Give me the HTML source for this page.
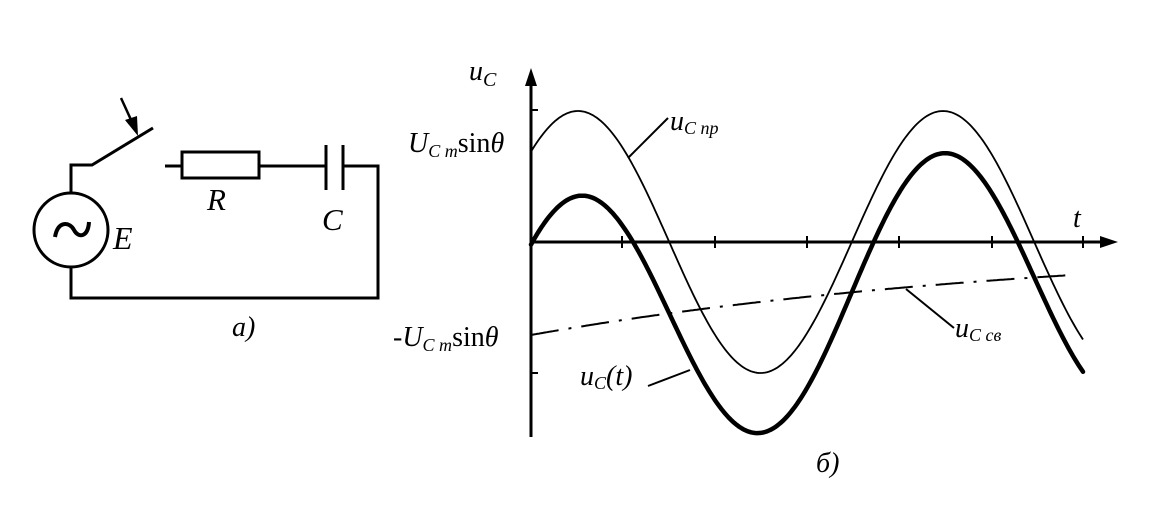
<!DOCTYPE html>
<html><head><meta charset="utf-8"><style>
html,body{margin:0;padding:0;background:#fff}
svg{display:block}
text{font-family:"Liberation Serif",serif;font-style:italic;fill:#000}
</style></head><body>
<svg id="s" width="1152" height="507" viewBox="0 0 1152 507" xmlns="http://www.w3.org/2000/svg">
<g stroke="#000" stroke-width="3" fill="none">
<circle cx="71" cy="230" r="37"/>
<polyline points="71,193 71,165 92,165 153,128"/>
<polyline points="71,267 71,298 378,298 378,166 343,166"/>
<line x1="343" y1="145" x2="343" y2="190"/>
<line x1="326" y1="145" x2="326" y2="190"/>
<line x1="326" y1="166" x2="259" y2="166"/>
<rect x="182" y="152" width="77" height="26"/>
<line x1="165" y1="166" x2="182" y2="166"/>
<line x1="121" y1="98" x2="132" y2="122" stroke-width="2.5"/>
<path d="M55,237 C58,220 70,222 74,230 C78,238 88,238 89,222" stroke-width="4"/>
</g>
<polygon points="138,136 125,120 137,116" fill="#000"/>
<text x="113" y="249" font-size="32">E</text>
<text x="207" y="210" font-size="31">R</text>
<text x="322" y="230" font-size="31">C</text>
<text x="232" y="336" font-size="28">a)</text>
<g stroke="#000" stroke-width="3" fill="none">
<line x1="531" y1="437" x2="531" y2="82"/>
<line x1="531" y1="242" x2="1103" y2="242"/>
<line x1="531" y1="110" x2="538" y2="110" stroke-width="2"/>
<line x1="531" y1="373" x2="538" y2="373" stroke-width="2"/>
<line x1="622" y1="236" x2="622" y2="248" stroke-width="2"/>
<line x1="715" y1="236" x2="715" y2="248" stroke-width="2"/>
<line x1="807" y1="236" x2="807" y2="248" stroke-width="2"/>
<line x1="899" y1="236" x2="899" y2="248" stroke-width="2"/>
<line x1="992" y1="236" x2="992" y2="248" stroke-width="2"/>
<line x1="1083" y1="236" x2="1083" y2="248" stroke-width="2"/>
</g>
<polygon points="531,68 525,86 537,86" fill="#000"/>
<polygon points="1118,242 1100,236 1100,248" fill="#000"/>
<path id="thin" fill="none" stroke="#000" stroke-width="1.8"/>
<path id="thick" fill="none" stroke="#000" stroke-width="4.5" stroke-linecap="round"/>
<path id="dash" fill="none" stroke="#000" stroke-width="2" stroke-dasharray="28,10,3,10"/>
<g stroke="#000" stroke-width="2">
<line x1="668" y1="118" x2="628" y2="158"/>
<line x1="648" y1="386" x2="690" y2="370"/>
<line x1="906" y1="289" x2="954" y2="328"/>
</g>
<text x="469" y="80" font-size="28">u<tspan font-size="20" dy="6">C</tspan></text>
<text x="670" y="130" font-size="28">u<tspan font-size="18" dy="4">C np</tspan></text>
<text x="955" y="337" font-size="28">u<tspan font-size="18" dy="4">C cв</tspan></text>
<text x="580" y="385" font-size="28">u<tspan font-size="18" dy="4">C</tspan><tspan dy="-4">(t)</tspan></text>
<text x="1073" y="227" font-size="28">t</text>
<text x="408" y="152" font-size="28">U<tspan font-size="18" dy="5">C m</tspan><tspan dy="-5" style="font-style:normal">sin</tspan>θ</text>
<text x="393" y="346" font-size="28" style="font-style:normal"><tspan style="font-style:italic">-U</tspan><tspan font-size="18" dy="5" style="font-style:italic">C m</tspan><tspan dy="-5">sin</tspan><tspan style="font-style:italic">θ</tspan></text>
<text x="816" y="472" font-size="28">б)</text>
</svg>
<script>
(function(){
var T=365,A=131,c=242,ph=Math.PI/2-2*Math.PI*47/T;
function thin(x){return c-A*Math.sin(2*Math.PI*(x-531)/T+ph);}
function off(x){return 93*Math.exp(-(x-531)/522);}
var a="",b="",d="";
for(var x=531;x<=1083;x+=2){
var y1=thin(x),y2=thin(x)+off(x);
a+=(x==531?"M":"L")+x+","+y1.toFixed(1);
b+=(x==531?"M":"L")+x+","+y2.toFixed(1);
if(x<=1075)d+=(x==531?"M":"L")+x+","+(c+off(x)).toFixed(1);
}
document.getElementById("thin").setAttribute("d",a);
document.getElementById("thick").setAttribute("d",b);
document.getElementById("dash").setAttribute("d",d);
})();
</script>
</body></html>
